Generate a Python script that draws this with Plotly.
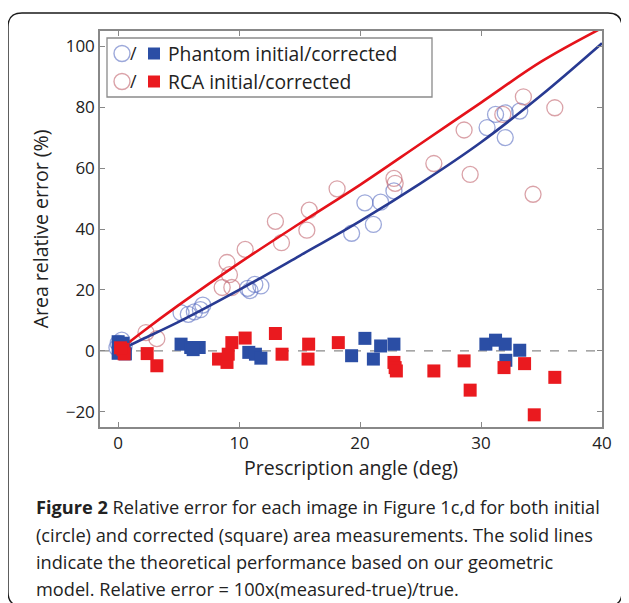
import plotly.graph_objects as go

# ---------------- data ----------------
phantom_init_x = [0.0, 0.3, 0.5, -0.1, 5.2, 5.8, 6.3, 6.8, 7.0, 10.7, 10.9, 11.3, 11.8,
                  19.3, 20.4, 21.1, 21.7, 22.8, 30.5, 31.2, 32.0, 32.0, 33.2]
phantom_init_y = [2.5, 3.5, 1.5, 1.0, 12.5, 12.0, 12.8, 13.5, 15.0, 20.5, 19.8, 21.8, 21.3,
                  38.6, 48.6, 41.5, 48.8, 52.5, 73.3, 77.6, 78.1, 70.0, 78.7]

rca_init_x = [0.3, 2.3, 3.2, 8.6, 9.2, 9.0, 9.4, 10.5, 13.0, 13.5, 15.6, 15.8, 18.1,
              22.8, 22.9, 26.1, 28.6, 29.1, 31.8, 33.5, 34.3, 36.1]
rca_init_y = [2.0, 6.0, 4.0, 20.8, 25.0, 29.0, 20.8, 33.3, 42.5, 35.5, 39.6, 46.2, 53.2,
              56.6, 55.0, 61.5, 72.5, 57.9, 77.6, 83.4, 51.4, 79.8]

phantom_corr_x = [0.0, 0.2, 0.5, 0.0, 0.4, 0.6, 0.3, 5.2, 6.0, 6.7, 6.2, 10.8, 11.35, 11.8,
                  19.3, 20.4, 21.1, 21.7, 22.8, 30.4, 31.2, 32.0, 32.05, 33.2]
phantom_corr_y = [3.0, 1.5, 0.0, -0.8, 2.5, -1.0, 0.5, 2.2, 1.1, 1.1, 0.4, -0.5, -1.1, -2.4,
                  -1.6, 4.1, -2.7, 1.6, 2.2, 2.2, 3.5, 2.2, -3.1, 0.2]

rca_corr_x = [0.4, 0.5, 0.2, 2.4, 3.2, 8.3, 9.0, 9.1, 9.4, 10.5, 13.0, 13.55, 15.75, 15.7,
              18.2, 22.8, 22.9, 23.0, 26.1, 28.6, 29.1, 31.9, 33.6, 34.4, 36.1]
rca_corr_y = [0.5, -1.0, 1.0, -0.9, -4.9, -2.7, -3.8, -1.1, 2.7, 4.2, 5.7, -1.1, 2.2, -2.7,
              2.7, -3.8, -5.5, -6.6, -6.6, -3.3, -12.9, -5.5, -4.2, -21.0, -8.7]

theory_x = [0, 2, 5, 10, 15, 20, 25, 30, 35, 40]
theory_rca_y = [0, 6.2, 15.0, 28.8, 41.8, 54.5, 68.0, 81.5, 95.0, 106.0]
theory_phantom_y = [0, 3.8, 9.5, 20.0, 31.2, 42.6, 55.0, 68.5, 84.0, 101.0]

x_ticks = [0, 10, 20, 30, 40]
y_ticks = [-20, 0, 20, 40, 60, 80, 100]

legend_labels = ["Phantom initial/corrected", "RCA initial/corrected"]
caption_lines = [
    "<b>Figure 2</b> Relative error for each image in Figure 1c,d for both initial",
    "(circle) and corrected (square) area measurements. The solid lines",
    "indicate the theoretical performance based on our geometric",
    "model. Relative error = 100x(measured-true)/true.",
]

# ---------------- style ----------------
OFF = 8                      # page body margin
W, H = 629 - OFF, 603 - OFF
# plot area in screen pixels
SX0, SX1, SY0, SY1 = 100, 602, 31, 427
ML, MR, MT, MB = SX0 - OFF, W - (SX1 - OFF), SY0 - OFF, H - (SY1 - OFF)
PW, PH = SX1 - SX0, SY1 - SY0
FONT = "Open Sans"
BLUE_SQ = "#2b4ea5"
RED_SQ = "#ea1a1f"
BLUE_C = "rgba(95,115,195,0.62)"
RED_C = "rgba(195,105,115,0.62)"
BLUE_L = "#283a92"
RED_L = "#e5121a"


def px(x):
    return (x - SX0) / PW


def py(y):
    return (SY1 - y) / PH


fig = go.Figure()

fig.add_trace(go.Scatter(x=phantom_init_x, y=phantom_init_y, mode="markers",
                         marker=dict(symbol="circle-open", size=16, color=BLUE_C, line=dict(width=1.3)),
                         showlegend=False))
fig.add_trace(go.Scatter(x=rca_init_x, y=rca_init_y, mode="markers",
                         marker=dict(symbol="circle-open", size=16, color=RED_C, line=dict(width=1.3)),
                         showlegend=False))
fig.add_trace(go.Scatter(x=theory_x, y=theory_phantom_y, mode="lines",
                         line=dict(color=BLUE_L, width=2.6, shape="spline"), showlegend=False))
fig.add_trace(go.Scatter(x=theory_x, y=theory_rca_y, mode="lines",
                         line=dict(color=RED_L, width=2.6, shape="spline"), showlegend=False))
fig.add_trace(go.Scatter(x=phantom_corr_x, y=phantom_corr_y, mode="markers",
                         marker=dict(symbol="square", size=13, color=BLUE_SQ, line=dict(width=0)),
                         showlegend=False))
fig.add_trace(go.Scatter(x=rca_corr_x, y=rca_corr_y, mode="markers",
                         marker=dict(symbol="square", size=13, color=RED_SQ, line=dict(width=0)),
                         showlegend=False))

fig.add_hline(y=0, line=dict(color="#8a8a8a", width=1.3, dash="dash"), layer="below")

shapes = []
# outer rounded frame
fx0, fx1, fy0, fy1, r = 8, 622, 13, 606, 14
path = (f"M {px(fx0 + r)},{py(fy0)} L {px(fx1 - r)},{py(fy0)} "
        f"Q {px(fx1)},{py(fy0)} {px(fx1)},{py(fy0 + r)} "
        f"L {px(fx1)},{py(fy1 - r)} Q {px(fx1)},{py(fy1)} {px(fx1 - r)},{py(fy1)} "
        f"L {px(fx0 + r)},{py(fy1)} Q {px(fx0)},{py(fy1)} {px(fx0)},{py(fy1 - r)} "
        f"L {px(fx0)},{py(fy0 + r)} Q {px(fx0)},{py(fy0)} {px(fx0 + r)},{py(fy0)} Z")
shapes.append(dict(type="path", xref="paper", yref="paper", path=path,
                   line=dict(color="#1a1a1a", width=1.4)))
# legend box
shapes.append(dict(type="rect", xref="paper", yref="paper",
                   x0=px(107), x1=px(432), y0=py(38), y1=py(97),
                   line=dict(color="#8a8a8a", width=1.3), fillcolor="white"))

annotations = []
rows = [(53.5, BLUE_C, BLUE_SQ), (81.5, RED_C, RED_SQ)]
for (yc, cc, sc), lab in zip(rows, legend_labels):
    shapes.append(dict(type="circle", xref="paper", yref="paper",
                       x0=px(114), x1=px(130), y0=py(yc + 8), y1=py(yc - 8),
                       line=dict(color=cc, width=1.4)))
    shapes.append(dict(type="rect", xref="paper", yref="paper",
                       x0=px(148), x1=px(160), y0=py(yc + 6), y1=py(yc - 6),
                       line=dict(width=0), fillcolor=sc))
    annotations.append(dict(xref="paper", yref="paper", x=px(133), y=py(yc), text="/",
                            showarrow=False, xanchor="center", yanchor="middle",
                            font=dict(family=FONT, size=18, color="#222")))
    annotations.append(dict(xref="paper", yref="paper", x=px(166), y=py(yc), text=lab,
                            showarrow=False, xanchor="left", yanchor="middle",
                            font=dict(family=FONT, size=19.3, color="#222")))

caption_y = [507, 534.5, 561.5, 588.5]
for t, yc in zip(caption_lines, caption_y):
    annotations.append(dict(xref="paper", yref="paper", x=px(34), y=py(yc), text=t,
                            showarrow=False, xanchor="left", yanchor="middle",
                            font=dict(family=FONT, size=18.2, color="#222")))

fig.update_layout(
    width=W, height=H,
    margin=dict(l=ML, r=MR, t=MT, b=MB),
    paper_bgcolor="white", plot_bgcolor="white",
    font=dict(family=FONT, size=17, color="#222"),
    shapes=fig.layout.shapes + tuple(shapes),
    annotations=annotations,
    showlegend=False,
)
fig.update_xaxes(range=[-1.5, 40], tickvals=x_ticks, ticks="inside", ticklen=5, tickcolor="#888",
                 showline=True, linecolor="#888", linewidth=1.5, mirror="ticks",
                 showgrid=False, zeroline=False,
                 title=dict(text="Prescription angle (deg)", font=dict(size=19.5), standoff=3))
fig.update_yaxes(range=[-25, 105], tickvals=y_ticks, ticks="inside", ticklen=5, tickcolor="#888",
                 showline=True, linecolor="#888", linewidth=1.5, mirror="ticks",
                 showgrid=False, zeroline=False,
                 title=dict(text="Area relative error (%)", font=dict(size=19.5), standoff=12))

fig.write_html("out.html")
